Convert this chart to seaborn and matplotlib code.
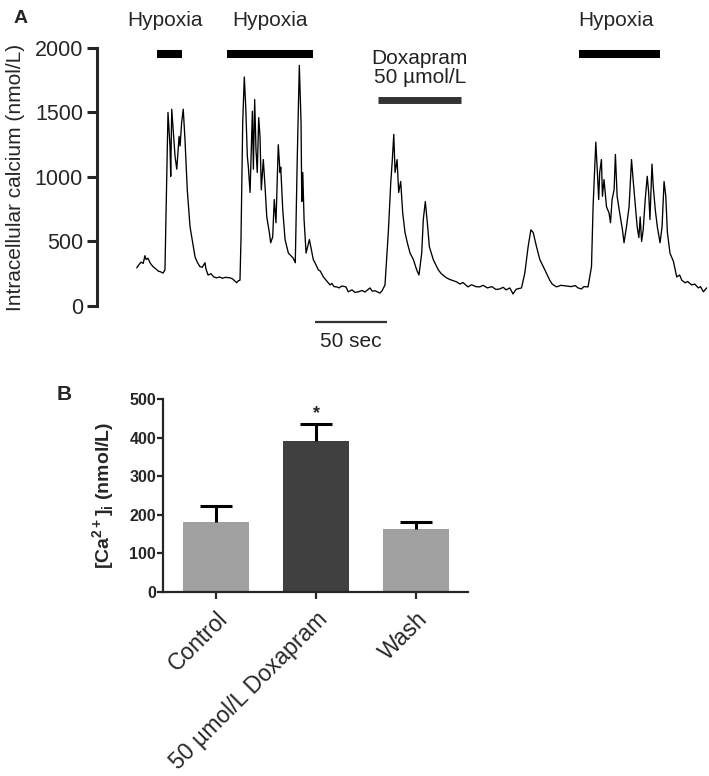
import numpy as np
import pandas as pd
import matplotlib.pyplot as plt
import seaborn as sns

# --- panel A: calcium trace (time in s, [Ca2+]i in nmol/L)
t_sec = [0.5, 2, 3.5, 5, 6.2, 7, 8.3, 10, 11.8, 13.5, 15.5, 17, 18.8, 20.1,
         22.2, 23.6, 24.1, 24.8, 27.1, 28.3, 29.9, 30.6, 31.7, 32.8, 34.0, 35.6, 37.5,
         41.0, 42.5, 44.4, 46, 47.9, 48.5, 50, 52, 54, 56, 58, 60, 62, 65.3, 67, 69.9, 71, 72.2,
         72.9, 74.1, 75.2, 76.2, 77.3, 78.0, 79.2, 80.8, 81.5, 82.4, 83.3, 84.2, 85.2,
         86.1, 87.0, 88.4, 89.6, 90.8, 92.6, 93.5, 94.9, 96.0, 97.2, 98.8, 100.0, 100.5,
         101.9, 103.5, 105.8, 109.2, 110.6, 112.0, 113.4, 114.6, 115.1, 115.8, 116.7,
         118.1, 120.4, 123.1, 124.5, 126.6, 128, 130.1, 132, 134.7, 136, 137.5, 139.4,
         141, 143, 145.8, 147.4, 150, 152, 154.4, 157, 159, 162.5, 164, 166, 169.4, 171,
         172.9, 175.2, 176.9, 178.0, 179.0, 179.9, 181.3, 182.4, 183.8, 185.2, 186.8,
         188.4, 190.3, 192.6, 194.9, 196.5, 198.4, 199.5, 200.9, 202.3, 203.7, 206.4,
         209.9, 212, 215.6, 218, 222.6, 225, 227, 230.6, 233, 236, 238.7, 241, 244, 247,
         250, 252.6, 255, 257, 259.6, 261.8, 264, 267.7, 270.0, 272.3, 274.2, 275.8,
         278.1, 280.4, 283.9, 287.3, 289, 292.0, 295, 298.9, 302, 305, 307, 309.3, 311,
         313.9, 316.3, 317.4, 319.3, 320.4, 321.3, 322.0, 323.2, 323.9, 325.0, 326.7,
         328.5, 329.5, 330.6, 332.0, 332.9, 334.1, 335.9, 337.8, 338.9, 340.6, 342.4,
         344.1, 345.2, 346.6, 348.0, 349.2, 350.1, 351.1, 352.2, 353.6, 355.0, 356.0,
         356.9, 358.3, 359.2, 360.6, 362.0, 363.9, 365.3, 366.7, 367.9, 369.0, 370.8,
         373.2, 375.5, 377.5, 379.0, 381.3, 383, 385.9, 388, 390.5, 392, 394.0, 396.3]
ca_nm = [295, 320, 340, 330, 390, 360, 370, 330, 305, 290, 270, 265, 255, 280,
         1500, 1240, 1005, 1525, 1160, 1060, 1315, 1240, 1425, 1525, 1290, 900, 615,
         380, 340, 305, 300, 335, 290, 240, 250, 225, 218, 225, 215, 222, 218, 210, 180, 195, 200,
         515, 1425, 1775, 1540, 1160, 1080, 880, 1510, 1060, 1600, 1215, 1035, 1460,
         1315, 900, 1135, 925, 690, 570, 490, 535, 825, 645, 1250, 1035, 1075,
         745, 515, 410, 370, 335, 1160, 1865, 1425, 810, 1035, 670,
         410, 515, 360, 330, 280, 270, 225, 200, 163, 175, 150, 148,
         140, 155, 148, 110, 125, 105, 110, 120, 108, 140, 115, 118, 100, 120,
         163, 570, 955, 1135, 1330, 1035, 1135, 880, 965, 720, 570,
         490, 410, 360, 280, 240, 410, 670, 810, 645, 460, 360,
         280, 250, 218, 205, 187, 170, 182, 148, 165, 150, 148, 160, 140, 150,
         128, 132, 145, 125, 140, 93, 130, 140, 255, 460, 590, 570,
         460, 360, 280, 200, 170, 148, 160, 155, 150, 158, 140, 132, 150,
         148, 305, 770, 1270, 1035, 825, 1035, 1135, 850, 980, 770,
         720, 645, 825, 900, 1175, 850, 720, 590, 490, 615, 770,
         1135, 980, 800, 615, 530, 690, 500, 590, 825, 1005, 880,
         670, 1100, 925, 745, 615, 490, 615, 965, 850, 570, 410,
         345, 225, 240, 200, 180, 190, 163, 170, 140, 150, 110, 140]

hyp_start = [14.6, 63.2, 307.6]
hyp_end = [31.9, 122.9, 363.9]
hyp_label_x = [19.8, 93, 333]
dox_start, dox_end = 168, 226
scale_start, scale_len = 124, 50

# --- panel B: mean [Ca2+]i with SEM
groups = ['Control', '50 µmol/L Doxapram', 'Wash']
means = [182, 390, 164]
sems = [40, 44, 17]
bar_colors = ['#a0a0a0', '#404040', '#a0a0a0']

sns.set_style('ticks')
plt.rcParams['font.family'] = ['Liberation Sans', 'DejaVu Sans']
plt.rcParams['mathtext.fontset'] = 'custom'
plt.rcParams['mathtext.rm'] = 'Liberation Sans:bold'
plt.rcParams['mathtext.bf'] = 'Liberation Sans:bold'

fig = plt.figure(figsize=(7.09, 7.76), dpi=100)
axA = fig.add_axes([0.1368, 0.6057, 0.8632, 0.3325])
axB = fig.add_axes([0.2299, 0.2371, 0.4302, 0.2487])

# panel A
fs_a = 15
trace = pd.DataFrame({'t': t_sec, 'ca': ca_nm})
sns.lineplot(data=trace, x='t', y='ca', color='black', linewidth=0.95,
             estimator=None, sort=False, ax=axA)
axA.hlines([1950] * 3, hyp_start, hyp_end, color='black', lw=5.8, capstyle='butt')
for lx in hyp_label_x:
    axA.text(lx, 2210, 'Hypoxia', ha='center', va='center', fontsize=fs_a)
axA.hlines(1600, dox_start, dox_end, color='#333333', lw=5, capstyle='butt')
axA.text((dox_start + dox_end) / 2, 1845, 'Doxapram\n50 µmol/L', ha='center',
         va='center', fontsize=fs_a, linespacing=1.02, color='#222222')
axA.plot([scale_start, scale_start + scale_len], [-124, -124], color='#333333',
         lw=1.6, clip_on=False, solid_capstyle='butt')
axA.text(scale_start + scale_len / 2, -279, '50 sec', ha='center', va='center',
         fontsize=fs_a, color='#222222')
axA.set_xlim(-27.1, 397.9)
axA.set_ylim(0, 2000)
axA.set_yticks([0, 500, 1000, 1500, 2000])
axA.set_xticks([])
for side in ['top', 'right', 'bottom']:
    axA.spines[side].set_visible(False)
axA.spines['left'].set_linewidth(2.2)
axA.tick_params(axis='y', length=7, width=2.2, labelsize=fs_a + 0.5, pad=3)
axA.set_xlabel('')
axA.set_ylabel('Intracellular calcium (nmol/L)', fontsize=fs_a)
axA.yaxis.set_label_coords(-0.118, 0.5)

# panel B
sns.barplot(x=groups, y=means, hue=groups, palette=bar_colors, width=0.66,
            linewidth=0, saturation=1, legend=False, ax=axB)
tops = np.array(means) + np.array(sems)
axB.vlines(range(3), means, tops, color='black', lw=2.2)
axB.hlines(tops, np.arange(3) - 0.16, np.arange(3) + 0.16, color='black', lw=2.2)
axB.text(1, 462, '*', ha='center', va='center', fontsize=13, fontweight='bold')
axB.set_xlim(-0.53, 2.52)
axB.set_ylim(0, 500)
axB.set_yticks(range(0, 501, 100))
for side in ['top', 'right']:
    axB.spines[side].set_visible(False)
for side in ['left', 'bottom']:
    axB.spines[side].set_linewidth(1.6)
axB.tick_params(axis='y', length=4, width=1.6, labelsize=11.5, pad=1)
axB.tick_params(axis='x', length=5, width=1.6, labelsize=16.5, pad=6)
for lbl in axB.get_yticklabels():
    lbl.set_fontweight('bold')
for lbl in axB.get_xticklabels():
    lbl.set_rotation(45)
    lbl.set_ha('right')
    lbl.set_va('top')
    lbl.set_rotation_mode('anchor')
axB.set_xlabel('')
axB.set_ylabel(r'[Ca$^{2+}$]$_{\mathrm{i}}$ (nmol/L)', fontsize=14, fontweight='bold')
axB.yaxis.set_label_coords(-0.15, 0.5)

fig.text(21 / 709, 1 - 18.5 / 776, 'A', fontsize=14, fontweight='bold', ha='center', va='center')
fig.text(64 / 709, 1 - 394.5 / 776, 'B', fontsize=15, fontweight='bold', ha='center', va='center')

fig.savefig('out.png', dpi=100)
